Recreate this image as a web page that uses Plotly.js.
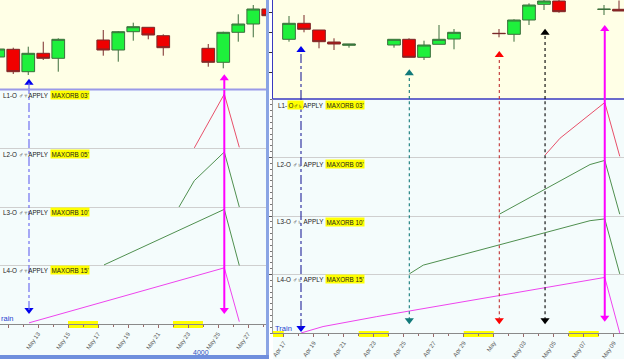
<!DOCTYPE html>
<html><head><meta charset="utf-8">
<script src="https://cdn.plot.ly/plotly-3.0.1.min.js"></script>
<style>html,body{margin:0;padding:0;background:#fff;overflow:hidden}#chart{width:624px;height:359px}</style>
</head><body><div id="chart"></div>
<script>
// ---------------- DATA ----------------
// Left panel: May, candles (day of month), OHLC read from picture (arbitrary price units)
const leftDays  = [10, 11, 12, 13, 14, 17, 18, 19, 20, 21, 24, 25, 26, 27, 28];
const leftOpen  = [43, 50.7, 28.3, 46.7, 41.7, 60, 50, 68.3, 72.7, 64.3, 51.7, 37.7, 67.7, 76, 91];
const leftHigh  = [53, 52.3, 53.3, 58.3, 61.7, 70, 69, 77.3, 72.7, 65.7, 56, 68.3, 85.7, 95, 93];
const leftLow   = [42, 26, 25, 40, 28.3, 44.3, 38.3, 59.3, 60.7, 44.3, 33.3, 31.7, 58.3, 62.7, 82];
const leftClose = [51, 28.3, 46.7, 41.7, 60.7, 50, 68.3, 73.3, 65, 52.3, 37.7, 67.7, 76, 91, 84.3];
const leftTickDays = [11, 13, 15, 17, 19, 21, 23, 25, 27];
const leftTickText = ['May 11','May 13','May 15','May 17','May 19','May 21','May 23','May 25','May 27'];
const leftWeekends = [[15, 17], [22, 24]];

// Right panel: Apr 17 = 17 ... May 1 = 31 ... May 9 = 39
const rightDays  = [17, 18, 19, 20, 21, 24, 25, 26, 27, 28, 31, 32, 33, 34, 35, 38, 39];
const rightOpen  = [60.7, 76.7, 70, 58, 54.7, 55, 60.7, 42.7, 55.7, 61, 66.7, 65.7, 80, 95.7, 99, 90.6, 90.7];
const rightHigh  = [84, 85, 70, 61.7, 56, 60.7, 61.7, 59.3, 75, 71, 71, 80.7, 96.7, 100, 100, 95, 99.5];
const rightLow   = [58.3, 67.7, 51.7, 50, 52.3, 52.3, 42.7, 40, 55.7, 50.7, 62.7, 58.3, 75, 90, 87.3, 85, 89];
const rightClose = [76.7, 70.7, 58.3, 56, 56, 60.7, 42.7, 55, 60.7, 67.7, 66.4, 80, 95, 99, 88.3, 90.8, 89];
const rightTickDays = [17, 19, 21, 23, 25, 27, 29, 31, 33, 35, 37, 39];
const rightTickText = ['Apr 17','Apr 19','Apr 21','Apr 23','Apr 25','Apr 27','Apr 29','May','May 03','May 05','May 07','May 09'];
const rightWeekends = [[16, 17], [22, 24], [29, 31], [36, 38]];

// Aspect lines (fraction of their band, 0..1)
const leftL1Days = [23.42, 25.42, 26.42];          const leftL1 = [0.01, 0.93, 0.02];
const leftL2Days = [22.4, 23.42, 25.42, 26.42];    const leftL2 = [0.0, 0.45, 0.94, 0.0];
const leftL3Days = [17.4, 25.42, 26.42];           const leftL3 = [0.01, 0.96, 0.0];
const leftL4Days = [12.4, 25.42, 26.42];           const leftL4 = [0.02, 0.96, 0.04];

const rightL1Days = [34.42, 35.42, 38.4, 39.4];               const rightL1 = [0.04, 0.33, 0.94, 0.02];
const rightL2Days = [31.37, 34.42, 37.42, 38.4, 39.4];        const rightL2 = [0.03, 0.46, 0.88, 0.95, 0.03];
const rightL3Days = [25.37, 26.3, 37.42, 38.4, 39.4];         const rightL3 = [0.01, 0.16, 0.92, 0.95, 0.01];
const rightL4Days = [18.15, 19.62, 23.2, 31.37, 38.4, 39.4];  const rightL4 = [0.0, 0.11, 0.28, 0.64, 0.95, 0.0];

const bandLabels = ['L1', 'L2', 'L3', 'L4'];
const orbLabels = ["MAXORB 03'", "MAXORB 05'", "MAXORB 10'", "MAXORB 15'"];

// Event markers
const leftEventDays = [12.4, 25.42];
const leftEventTop = [17.3, 21.7];
const leftEventBottom = [0.24, 0.24];
const leftEventColors = ['#0000ee', '#ff00ff'];
const leftEventLine = ['#7070f0', '#ff00ff'];
const leftEventDash = ['dashdot', 'solid'];

const rightEventDays = [18.15, 25.37, 31.37, 34.42, 38.4];
const rightEventTop = [50, 26.7, 45, 67.3, 71];
const rightEventBottom = [0.085, 0.22, 0.22, 0.22, 0.26];
const rightEventColors = ['#0000ee', '#127a7a', '#ff0000', '#000000', '#ff00ff'];
const rightEventLine = ['#23239a', '#127a7a', '#c03030', '#000000', '#ff00ff'];
const rightEventDash = ['dashdot', 'dot', 'dot', 'dot', 'solid'];

// ---------------- LAYOUT HELPERS ----------------
const W = 624, H = 359;
const px = x => x / W;
const py = y => 1 - y / H;
const CANDLE_OFFSET = 0.35;
const lineColors = ['#e8506a', '#4f8f4f', '#4f8f4f', '#ee44ee'];

const incr = {line: {color: '#3c6e3c', width: 1}, fillcolor: '#1ef03c'};
const decr = {line: {color: '#7a2a2a', width: 1}, fillcolor: '#f00000'};

const traces = [];
traces.push({type: 'candlestick', xaxis: 'x', yaxis: 'y',
  x: leftDays.map(d => d + CANDLE_OFFSET), open: leftOpen, high: leftHigh, low: leftLow, close: leftClose,
  increasing: incr, decreasing: decr, whiskerwidth: 0, hoverinfo: 'skip'});
traces.push({type: 'candlestick', xaxis: 'x2', yaxis: 'y3',
  x: rightDays.map(d => d + CANDLE_OFFSET), open: rightOpen, high: rightHigh, low: rightLow, close: rightClose,
  increasing: incr, decreasing: decr, whiskerwidth: 0, hoverinfo: 'skip'});

const leftLines = [[leftL1Days, leftL1], [leftL2Days, leftL2], [leftL3Days, leftL3], [leftL4Days, leftL4]];
const rightLines = [[rightL1Days, rightL1], [rightL2Days, rightL2], [rightL3Days, rightL3], [rightL4Days, rightL4]];
leftLines.forEach((l, i) => traces.push({type: 'scatter', mode: 'lines', xaxis: 'x', yaxis: 'y2',
  x: l[0], y: l[1].map(v => 3 - i + v), line: {color: lineColors[i], width: 1}, hoverinfo: 'skip'}));
rightLines.forEach((l, i) => traces.push({type: 'scatter', mode: 'lines', xaxis: 'x2', yaxis: 'y4',
  x: l[0], y: l[1].map(v => 3 - i + v), line: {color: lineColors[i], width: 1}, hoverinfo: 'skip'}));

const shapes = [];
// backgrounds
shapes.push({type: 'rect', xref: 'paper', yref: 'paper', x0: 0, x1: px(266), y0: py(89), y1: 1, fillcolor: '#ffffe6', line: {width: 0}, layer: 'below'});
shapes.push({type: 'rect', xref: 'paper', yref: 'paper', x0: 0, x1: px(266), y0: py(355), y1: py(89), fillcolor: '#f4fcfc', line: {width: 0}, layer: 'below'});
shapes.push({type: 'rect', xref: 'paper', yref: 'paper', x0: px(273), x1: 1, y0: py(99), y1: 1, fillcolor: '#ffffe6', line: {width: 0}, layer: 'below'});
shapes.push({type: 'rect', xref: 'paper', yref: 'paper', x0: px(273), x1: 1, y0: 0, y1: py(99), fillcolor: '#f4fcfc', line: {width: 0}, layer: 'below'});
// weekend highlights on the axes
leftWeekends.forEach(w => shapes.push({type: 'rect', xref: 'x', yref: 'paper', x0: w[0], x1: w[1], y0: py(328), y1: py(321), fillcolor: '#ffff00', line: {width: 0}, layer: 'below'}));
rightWeekends.forEach(w => shapes.push({type: 'rect', xref: 'x2', yref: 'paper', x0: w[0], x1: w[1], y0: py(337), y1: py(331), fillcolor: '#ffff00', line: {width: 0}, layer: 'below'}));
// panel borders
shapes.push({type: 'line', xref: 'paper', yref: 'paper', x0: 0, x1: px(266), y0: py(89.5), y1: py(89.5), line: {color: '#9a9ae8', width: 2}});
shapes.push({type: 'line', xref: 'paper', yref: 'paper', x0: px(273), x1: 1, y0: py(99), y1: py(99), line: {color: '#3a3ac0', width: 1.5}});
shapes.push({type: 'rect', xref: 'paper', yref: 'paper', x0: px(266), x1: px(269), y0: 0, y1: 1, fillcolor: '#8aa4e4', line: {width: 0}});
shapes.push({type: 'rect', xref: 'paper', yref: 'paper', x0: 0, x1: px(269), y0: 0, y1: py(355), fillcolor: '#6f8fdd', line: {width: 0}});
// event verticals
leftEventDays.forEach((d, i) => {
  const ln = {color: leftEventLine[i], width: leftEventDash[i] === 'solid' ? 2 : 1.2, dash: leftEventDash[i]};
  shapes.push({type: 'line', xref: 'x', yref: 'y', x0: d, x1: d, y0: 11, y1: leftEventTop[i], line: ln});
  shapes.push({type: 'line', xref: 'x', yref: 'y2', x0: d, x1: d, y0: leftEventBottom[i], y1: 4, line: ln});
});
rightEventDays.forEach((d, i) => {
  const ln = {color: rightEventLine[i], width: rightEventDash[i] === 'solid' ? 2 : 1.1, dash: rightEventDash[i]};
  shapes.push({type: 'line', xref: 'x2', yref: 'y3', x0: d, x1: d, y0: 1, y1: rightEventTop[i], line: ln});
  shapes.push({type: 'line', xref: 'x2', yref: 'y4', x0: d, x1: d, y0: rightEventBottom[i], y1: 4, line: ln});
});

// triangles
traces.push({type: 'scatter', mode: 'markers', xaxis: 'x', yaxis: 'y', x: leftEventDays, y: leftEventTop,
  marker: {symbol: 'triangle-up', size: 8, color: leftEventColors, line: {width: 0}}, hoverinfo: 'skip', cliponaxis: false});
traces.push({type: 'scatter', mode: 'markers', xaxis: 'x', yaxis: 'y2', x: leftEventDays, y: leftEventBottom,
  marker: {symbol: 'triangle-down', size: 8, color: leftEventColors, line: {width: 0}}, hoverinfo: 'skip', cliponaxis: false});
traces.push({type: 'scatter', mode: 'markers', xaxis: 'x2', yaxis: 'y3', x: rightEventDays, y: rightEventTop,
  marker: {symbol: 'triangle-up', size: 8, color: rightEventColors, line: {width: 0}}, hoverinfo: 'skip', cliponaxis: false});
traces.push({type: 'scatter', mode: 'markers', xaxis: 'x2', yaxis: 'y4', x: rightEventDays, y: rightEventBottom,
  marker: {symbol: 'triangle-down', size: 8, color: rightEventColors, line: {width: 0}}, hoverinfo: 'skip', cliponaxis: false});

// annotations
const ann = [];
const lblFont = {family: 'Liberation Sans, Arial, sans-serif', size: 6.3, color: '#1a1a1a'};
const leftLabelY = [95, 154, 212, 270];
const rightLabelY = [105, 164, 221.5, 279];
bandLabels.forEach((b, i) => {
  ann.push({xref: 'paper', yref: 'paper', x: px(49.5), y: py(leftLabelY[i]), xanchor: 'right', yanchor: 'middle',
    text: b + '-O \u2642\u2646APPLY', showarrow: false, font: lblFont, borderpad: 0});
  ann.push({xref: 'paper', yref: 'paper', x: px(50), y: py(leftLabelY[i]), xanchor: 'left', yanchor: 'middle',
    text: orbLabels[i], showarrow: false, font: lblFont, bgcolor: '#ffff00', borderpad: 0.5});
  if (i === 0) {
    ann.push({xref: 'paper', yref: 'paper', x: px(277), y: py(rightLabelY[i]), xanchor: 'left', yanchor: 'middle',
      text: b + '-', showarrow: false, font: lblFont, borderpad: 0});
    ann.push({xref: 'paper', yref: 'paper', x: px(286.5), y: py(rightLabelY[i]), xanchor: 'left', yanchor: 'middle',
      text: 'O\u2642\u2644', showarrow: false, font: lblFont, bgcolor: '#ffff00', borderpad: 0.5});
    ann.push({xref: 'paper', yref: 'paper', x: px(324.5), y: py(rightLabelY[i]), xanchor: 'right', yanchor: 'middle',
      text: 'APPLY', showarrow: false, font: lblFont, borderpad: 0});
  } else {
    ann.push({xref: 'paper', yref: 'paper', x: px(324.5), y: py(rightLabelY[i]), xanchor: 'right', yanchor: 'middle',
      text: b + '-O \u2642\u2644 APPLY', showarrow: false, font: lblFont, borderpad: 0});
  }
  ann.push({xref: 'paper', yref: 'paper', x: px(325), y: py(rightLabelY[i]), xanchor: 'left', yanchor: 'middle',
    text: orbLabels[i], showarrow: false, font: lblFont, bgcolor: '#ffff00', borderpad: 0.5});
});
const trainFont = {family: 'Liberation Sans, Arial, sans-serif', size: 7.5, color: '#1f3fd0'};
ann.push({xref: 'paper', yref: 'paper', x: px(0), y: py(318), xanchor: 'left', yanchor: 'middle', text: 'rain', showarrow: false, font: trainFont, borderpad: 0});
ann.push({xref: 'paper', yref: 'paper', x: px(273), y: py(328), xanchor: 'left', yanchor: 'middle', text: 'Train', showarrow: false, font: trainFont});
ann.push({xref: 'paper', yref: 'paper', x: px(201), y: py(352), xanchor: 'center', yanchor: 'middle', text: '4000', showarrow: false, font: {family: 'Liberation Sans, Arial, sans-serif', size: 7, color: '#3050c0'}});

const tickFont = {family: 'Liberation Sans, Arial, sans-serif', size: 6, color: '#5a5a5a'};
const layout = {
  width: W, height: H, margin: {l: 0, r: 0, t: 0, b: 0},
  paper_bgcolor: '#ffffff', plot_bgcolor: 'rgba(0,0,0,0)', showlegend: false, hovermode: false,
  boxgap: 0.08, boxgroupgap: 0.08,
  font: lblFont,
  xaxis: {domain: [0, px(266)], range: [11 - 8 / 15, 11 + 258 / 15], anchor: 'y2', rangeslider: {visible: false},
    tickmode: 'array', tickvals: leftTickDays, ticktext: leftTickText, tickangle: -55, tickfont: tickFont,
    ticks: 'outside', ticklen: 3, tickcolor: '#9a6a6a', minor: {dtick: 1, tick0: 0, ticklen: 2, tickcolor: '#9a6a6a', ticks: 'outside'},
    showline: true, linecolor: '#8a8a8a', linewidth: 1, showgrid: false, zeroline: false},
  yaxis: {domain: [py(89), 1], range: [11, 100], anchor: 'x', visible: false},
  yaxis2: {domain: [py(324), py(90)], range: [0, 4], anchor: 'x', tickmode: 'array', tickvals: [1, 2, 3],
    showgrid: true, gridcolor: '#cfcfcf', showticklabels: false, ticks: '', zeroline: false, showline: false},
  xaxis2: {domain: [px(273), 1], range: [17 - 10.75 / 15, 17 + 340.25 / 15], anchor: 'y4', rangeslider: {visible: false},
    tickmode: 'array', tickvals: rightTickDays, ticktext: rightTickText, tickangle: -55, tickfont: tickFont,
    ticks: 'outside', ticklen: 3, tickcolor: '#9a6a6a', minor: {dtick: 1, tick0: 0, ticklen: 2, tickcolor: '#9a6a6a', ticks: 'outside'},
    showline: true, linecolor: '#8a8a8a', linewidth: 1, showgrid: false, zeroline: false},
  yaxis3: {domain: [py(99), 1], range: [1, 100], anchor: 'x2', tickmode: 'array', tickvals: [28, 48, 68, 88],
    ticks: 'outside', ticklen: 4, tickcolor: '#333', showticklabels: false, showgrid: false, zeroline: false,
    showline: true, linecolor: '#3a3ac0', linewidth: 1.5},
  yaxis4: {domain: [py(333), py(99)], range: [0, 4], anchor: 'x2', tickmode: 'array', tickvals: [1, 2, 3],
    showgrid: true, gridcolor: '#cfcfcf', ticks: 'outside', ticklen: 3, tickcolor: '#555', showticklabels: false,
    minor: {dtick: 0.1, tick0: 0, ticklen: 2, tickcolor: '#777', ticks: 'outside'},
    showline: true, linecolor: '#999', zeroline: false},
  shapes: shapes,
  annotations: ann
};
Plotly.newPlot('chart', traces, layout, {staticPlot: true, displayModeBar: false});
</script></body></html>
